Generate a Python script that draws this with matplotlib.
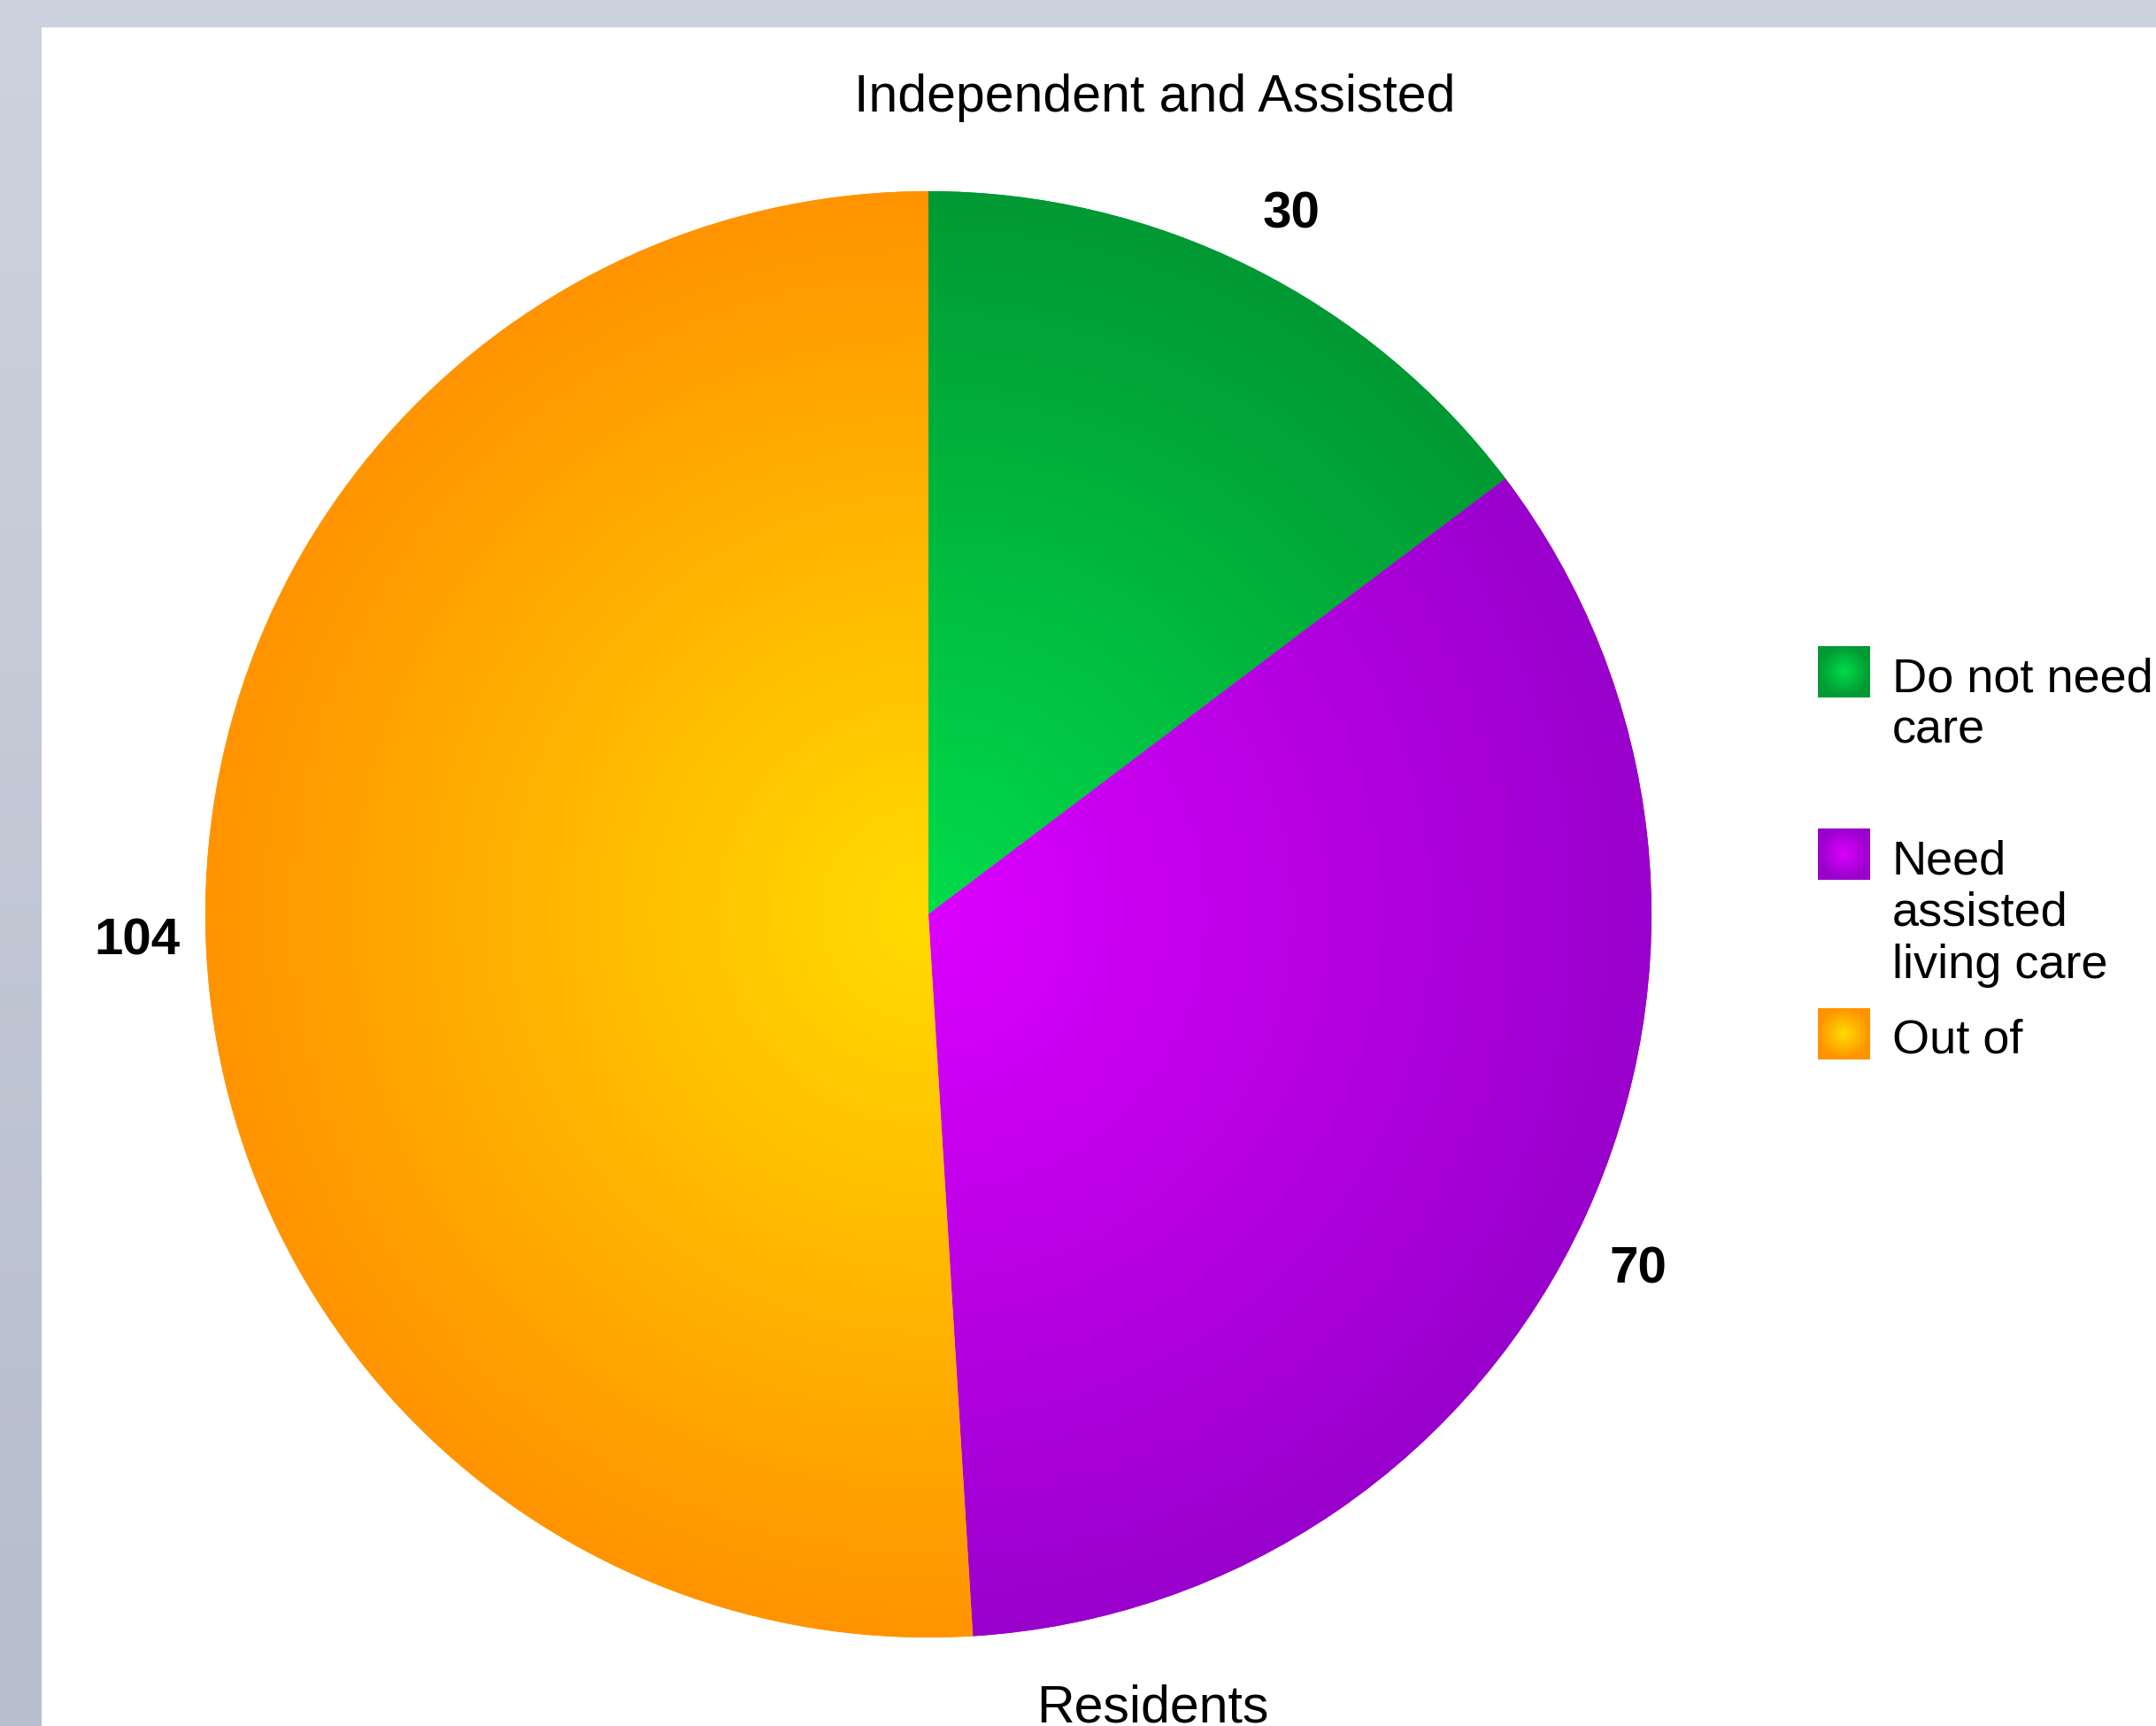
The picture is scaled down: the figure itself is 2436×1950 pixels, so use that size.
import numpy as np
import matplotlib
matplotlib.use('Agg')
import matplotlib.pyplot as plt
from matplotlib.colors import to_rgb
from matplotlib.patches import Rectangle

# chart data
labels = ['Do not need\ncare', 'Need\nassisted\nliving care', 'Out of']
values = [30, 70, 104]
# radial gradient colours (centre, rim) for each slice
centre_colors = ['#00dc4c', '#dc00ff', '#ffdc00']
rim_colors = ['#009933', '#9900cc', '#ff9400']
title_top = 'Independent and Assisted'
title_bottom = 'Residents'

W, H = 2436, 1950
plt.rcParams['font.family'] = ['Liberation Sans', 'DejaVu Sans']

# small angle nudges (degrees) for the value labels, as placed in the original
label_nudge = [-0.8, -1.6, -0.1]


def radial_image(c0, c1, n=400):
    # square image, colour goes from c0 in the middle to c1 at radius 1
    g = np.linspace(-1, 1, n)
    xx, yy = np.meshgrid(g, g)
    t = np.clip(np.sqrt(xx ** 2 + yy ** 2), 0, 1)[..., None]
    a = np.array(to_rgb(c0))
    b = np.array(to_rgb(c1))
    return a + (b - a) * t


fig = plt.figure(figsize=(W / 100, H / 100), dpi=100)

# grey page background with a soft vertical gradient
bg = fig.add_axes([0, 0, 1, 1])
bg.set_axis_off()
grad = np.linspace(0, 1, 256)[:, None, None]
top = np.array(to_rgb('#cdd3de'))
bot = np.array(to_rgb('#b6bdcb'))
bg.imshow(top + (bot - top) * grad, aspect='auto', extent=[0, 1, 0, 1])
bg.set_xlim(0, 1)
bg.set_ylim(0, 1)

# main drawing axes in pixel units (y measured from the bottom)
ax = fig.add_axes([0, 0, 1, 1])
ax.set_axis_off()
ax.add_patch(Rectangle((47, 0), W - 47, H - 31, facecolor='white', edgecolor='none', zorder=0))

cx, cy, R = 1049, H - 1033, 817
wedges, _ = ax.pie(values, center=(cx, cy), radius=R, startangle=90,
                   counterclock=False, colors=rim_colors,
                   wedgeprops=dict(linewidth=0, antialiased=True))

for w, c0, c1, v, nd in zip(wedges, centre_colors, rim_colors, values, label_nudge):
    im = ax.imshow(radial_image(c0, c1), extent=[cx - R, cx + R, cy - R, cy + R],
                   origin='lower', interpolation='bilinear', zorder=2)
    im.set_clip_path(w)
    # value label just outside the slice
    ang = np.deg2rad((w.theta1 + w.theta2) / 2 + nd)
    ax.text(cx + 1.095 * R * np.cos(ang), cy + 1.095 * R * np.sin(ang) - 5, str(v),
            ha='center', va='center', fontsize=42, fontweight='bold', zorder=3)

# titles
ax.text(1305, H - 126, title_top, ha='center', va='baseline', fontsize=42.5)
ax.text(1302, H - 1946, title_bottom, ha='center', va='baseline', fontsize=42.5)

# legend, drawn by hand so each swatch lines up with the first text line
entry_y = [759, 965, 1168]   # swatch centres, px from top
line_gap = 59
for lab, c0, c1, ey in zip(labels, centre_colors, rim_colors, entry_y):
    sx, sw, sh = 2054, 59, 57
    sy = H - ey - sh / 2
    ax.add_patch(Rectangle((sx, sy), sw, sh, facecolor=c1, edgecolor='none', zorder=2))
    ax.imshow(radial_image(c0, c1), extent=[sx, sx + sw, sy, sy + sh],
              origin='lower', interpolation='bilinear', zorder=3)
    for k, line in enumerate(lab.split('\n')):
        ax.text(2138, H - (ey + 22 + k * line_gap), line, ha='left', va='baseline',
                fontsize=39, zorder=3)

ax.set_xlim(0, W)
ax.set_ylim(0, H)
ax.set_aspect('auto')

fig.savefig('out.png', dpi=100)
